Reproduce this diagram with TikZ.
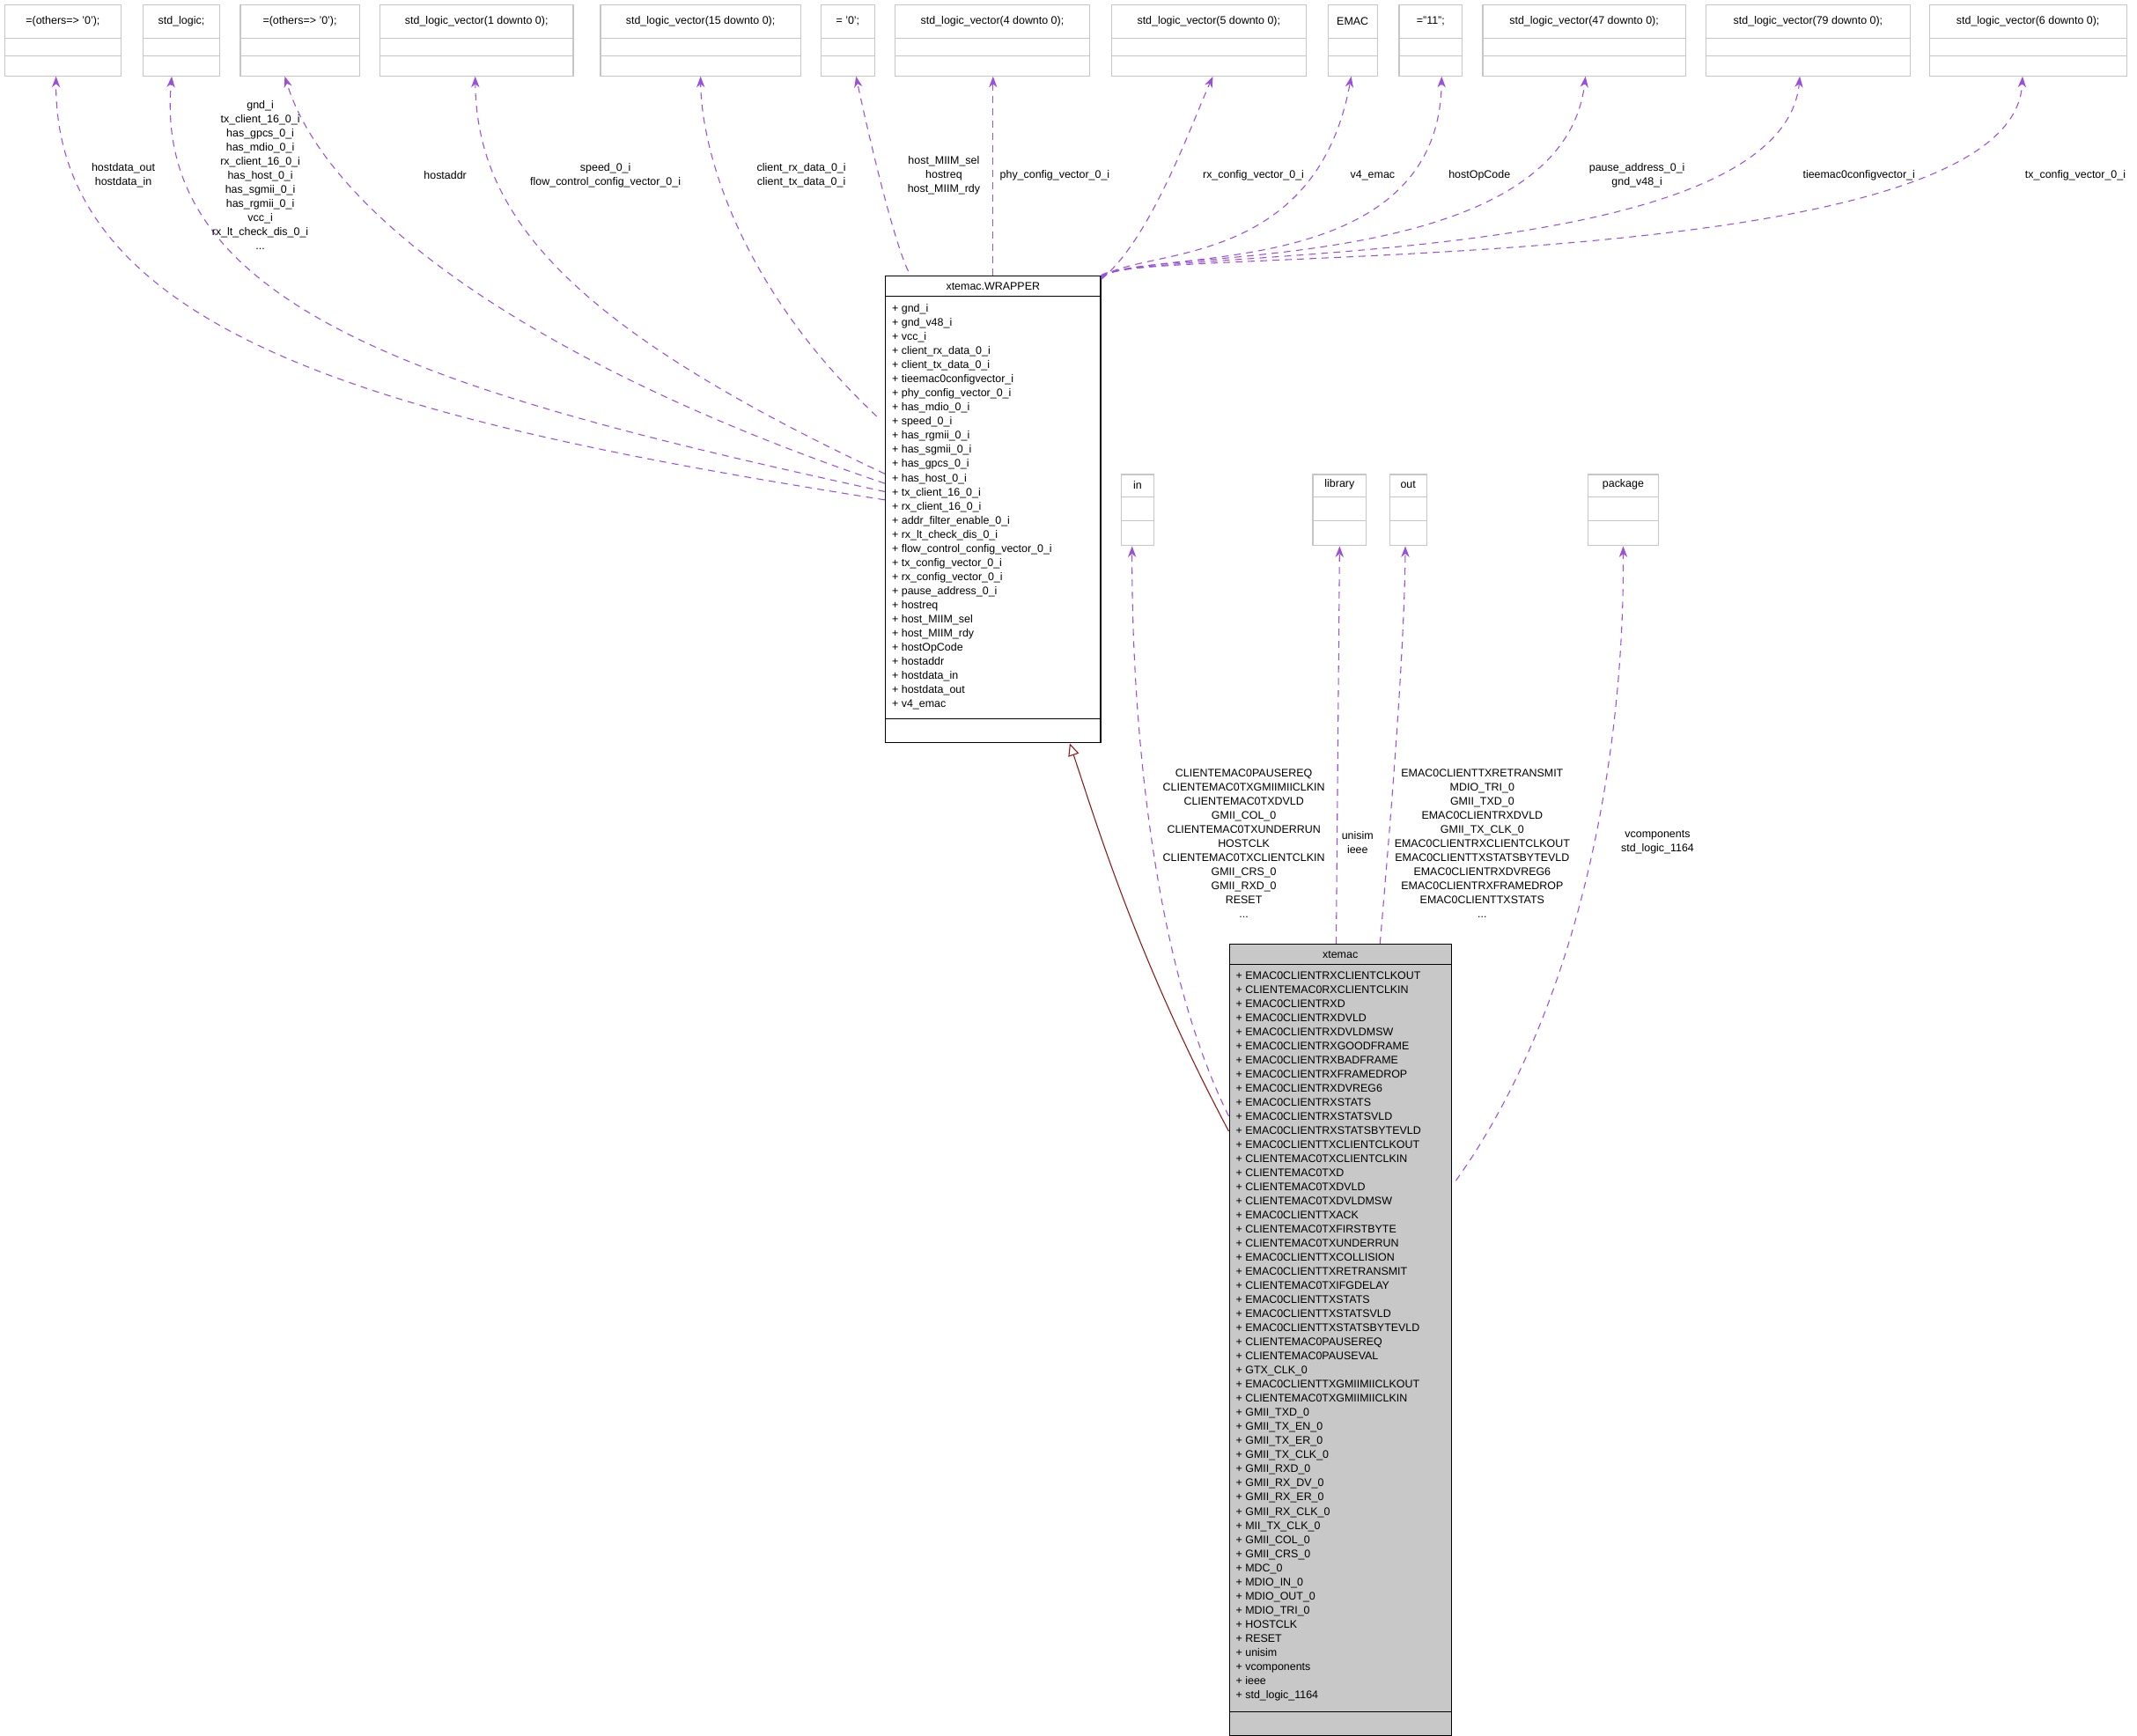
\documentclass[tikz,border=0pt]{standalone}
\usepackage{fontspec}
\setmainfont{Liberation Sans}
\usetikzlibrary{arrows.meta,positioning}
\definecolor{deppurple}{HTML}{9A50DA}
\definecolor{inhred}{HTML}{8B1A1A}
\definecolor{boxgray}{HTML}{C8C8C8}

% a small type box of the top row: name, left, right, text
\newcommand\typebox[4]{%
  \node[tbox, minimum width={#3pt-#2pt}] (#1) at (#2,3) {};
  \node[txt] (#1-t) at ([yshift=-12.5pt]#1.north) {#4};
  \draw[lightline] ([yshift=-25pt]#1.north west) -- ([yshift=-25pt]#1.north east);
  \draw[lightline] ([yshift=-38pt]#1.north west) -- ([yshift=-38pt]#1.north east);
}
% a small box of the middle row
\newcommand\kindbox[4]{%
  \node[tbox, minimum width={#3pt-#2pt}] (#1) at (#2,346) {};
  \node[txt] (#1-t) at ([yshift=-8pt]#1.north) {#4};
  \draw[lightline] ([yshift=-17pt]#1.north west) -- ([yshift=-17pt]#1.north east);
  \draw[lightline] ([yshift=-34pt]#1.north west) -- ([yshift=-34pt]#1.north east);
}

\begin{document}
\begin{tikzpicture}[x=1pt,y=-1pt,
        txt/.style={inner sep=0pt,font=\fontsize{8}{10.3}\selectfont},
        lst/.style={txt,align=left,anchor=north west},
        lbl/.style={txt,align=center},
        tbox/.style={draw=gray!45,line width=0.8pt,anchor=north west,minimum height=52pt,inner sep=0pt},
        lightline/.style={gray!45,line width=0.8pt},
        cbox/.style={draw,line width=0.8pt,anchor=north west,inner sep=0pt},
        dep/.style={deppurple,dashed,dash pattern=on 5pt off 4pt,line width=0.7pt,
          -{Stealth[length=8pt,width=6pt,inset=2.5pt]}},
        inh/.style={inhred,line width=0.7pt,-{Triangle[open,length=9pt,width=8pt]}}]
    \useasboundingbox (0,0) rectangle (1560,1267);

    % type boxes
    \typebox{b1}{3}{88}{=(others=> '0');}
    \typebox{b2}{104}{160}{std\_logic;}
    \typebox{b3}{175}{262}{=(others=> '0');}
    \typebox{b4}{277}{418}{std\_logic\_vector(1 downto 0);}
    \typebox{b5}{438}{584}{std\_logic\_vector(15 downto 0);}
    \typebox{b6}{599}{638}{= '0';}
    \typebox{b7}{653}{795}{std\_logic\_vector(4 downto 0);}
    \typebox{b8}{811}{953}{std\_logic\_vector(5 downto 0);}
    \typebox{b9}{969}{1005}{EMAC}
    \typebox{b10}{1021}{1067}{="11";}
    \typebox{b11}{1082}{1230}{std\_logic\_vector(47 downto 0);}
    \typebox{b12}{1245}{1394}{std\_logic\_vector(79 downto 0);}
    \typebox{b13}{1408}{1552}{std\_logic\_vector(6 downto 0);}

    % kind boxes
    \kindbox{kin}{818}{842}{in}
    \kindbox{klib}{958}{997}{library}
    \kindbox{kout}{1014}{1041}{out}
    \kindbox{kpkg}{1159}{1210}{package}

    % wrapper class
    \node[cbox,minimum width=157pt,minimum height=341pt] (wrapper) at (646,201) {};
    \node[txt] (wrapper-t) at ([yshift=-8pt]wrapper.north) {xtemac.WRAPPER};
    \draw ([yshift=-15pt]wrapper.north west) -- ([yshift=-15pt]wrapper.north east);
    \node[lst] (wrapper-a) at (651,222) {+ gnd\_i\\+ gnd\_v48\_i\\+ vcc\_i\\+ client\_rx\_data\_0\_i\\
        + client\_tx\_data\_0\_i\\+ tieemac0configvector\_i\\+ phy\_config\_vector\_0\_i\\
        + has\_mdio\_0\_i\\+ speed\_0\_i\\+ has\_rgmii\_0\_i\\+ has\_sgmii\_0\_i\\+ has\_gpcs\_0\_i\\
        + has\_host\_0\_i\\+ tx\_client\_16\_0\_i\\+ rx\_client\_16\_0\_i\\+ addr\_filter\_enable\_0\_i\\
        + rx\_lt\_check\_dis\_0\_i\\+ flow\_control\_config\_vector\_0\_i\\+ tx\_config\_vector\_0\_i\\
        + rx\_config\_vector\_0\_i\\+ pause\_address\_0\_i\\+ hostreq\\+ host\_MIIM\_sel\\
        + host\_MIIM\_rdy\\+ hostOpCode\\+ hostaddr\\+ hostdata\_in\\+ hostdata\_out\\+ v4\_emac};
    \draw ([yshift=-324pt]wrapper.north west) -- ([yshift=-324pt]wrapper.north east);

    % xtemac class
    \node[cbox,fill=boxgray,minimum width=162pt,minimum height=578pt] (xtemac) at (897,689) {};
    \node[txt] (xtemac-t) at ([yshift=-8pt]xtemac.north) {xtemac};
    \draw ([yshift=-15pt]xtemac.north west) -- ([yshift=-15pt]xtemac.north east);
    \node[lst] (xtemac-a) at (902,709) {+ EMAC0CLIENTRXCLIENTCLKOUT\\+ CLIENTEMAC0RXCLIENTCLKIN\\
        + EMAC0CLIENTRXD\\+ EMAC0CLIENTRXDVLD\\+ EMAC0CLIENTRXDVLDMSW\\+ EMAC0CLIENTRXGOODFRAME\\
        + EMAC0CLIENTRXBADFRAME\\+ EMAC0CLIENTRXFRAMEDROP\\+ EMAC0CLIENTRXDVREG6\\
        + EMAC0CLIENTRXSTATS\\+ EMAC0CLIENTRXSTATSVLD\\+ EMAC0CLIENTRXSTATSBYTEVLD\\
        + EMAC0CLIENTTXCLIENTCLKOUT\\+ CLIENTEMAC0TXCLIENTCLKIN\\+ CLIENTEMAC0TXD\\
        + CLIENTEMAC0TXDVLD\\+ CLIENTEMAC0TXDVLDMSW\\+ EMAC0CLIENTTXACK\\+ CLIENTEMAC0TXFIRSTBYTE\\
        + CLIENTEMAC0TXUNDERRUN\\+ EMAC0CLIENTTXCOLLISION\\+ EMAC0CLIENTTXRETRANSMIT\\
        + CLIENTEMAC0TXIFGDELAY\\+ EMAC0CLIENTTXSTATS\\+ EMAC0CLIENTTXSTATSVLD\\
        + EMAC0CLIENTTXSTATSBYTEVLD\\+ CLIENTEMAC0PAUSEREQ\\+ CLIENTEMAC0PAUSEVAL\\+ GTX\_CLK\_0\\
        + EMAC0CLIENTTXGMIIMIICLKOUT\\+ CLIENTEMAC0TXGMIIMIICLKIN\\+ GMII\_TXD\_0\\+ GMII\_TX\_EN\_0\\
        + GMII\_TX\_ER\_0\\+ GMII\_TX\_CLK\_0\\+ GMII\_RXD\_0\\+ GMII\_RX\_DV\_0\\+ GMII\_RX\_ER\_0\\
        + GMII\_RX\_CLK\_0\\+ MII\_TX\_CLK\_0\\+ GMII\_COL\_0\\+ GMII\_CRS\_0\\+ MDC\_0\\+ MDIO\_IN\_0\\
        + MDIO\_OUT\_0\\+ MDIO\_TRI\_0\\+ HOSTCLK\\+ RESET\\+ unisim\\+ vcomponents\\+ ieee\\
        + std\_logic\_1164};
    \draw ([yshift=-561pt]xtemac.north west) -- ([yshift=-561pt]xtemac.north east);

    % wrapper to type boxes
    \draw[dep] ([yshift=-164pt]wrapper.north west) .. controls (300,310) and (40,250) .. ([xshift=-5pt]b1.south);
    \draw[dep] ([yshift=-158pt]wrapper.north west) .. controls (330,290) and (110,230) .. ([xshift=-7pt]b2.south);
    \draw[dep] ([yshift=-152pt]wrapper.north west) .. controls (400,270) and (240,160) .. ([xshift=-11pt]b3.south);
    \draw[dep] ([yshift=-145pt]wrapper.north west) .. controls (420,240) and (348,160) .. ([xshift=-1pt]b4.south);
    \draw[dep] ([xshift=-6pt,yshift=-103pt]wrapper.north west) .. controls (540,210) and (512,110) .. (b5.south);
    \draw[dep] ([xshift=17pt,yshift=3pt]wrapper.north west) .. controls (650,170) and (630,80) .. ([xshift=6pt]b6.south);
    \draw[dep] (wrapper.north) -- (wrapper.north|-b7.south);
    \draw[dep] ([yshift=-3pt]wrapper.north east) .. controls (840,175) and (870,90) .. ([xshift=3pt]b8.south);
    \draw[dep] ([yshift=-2pt]wrapper.north east) .. controls (830,180) and (960,200) .. ([xshift=-1pt]b9.south);
    \draw[dep] ([yshift=-2pt]wrapper.north east) .. controls (830,180) and (1050,210) .. ([xshift=8pt]b10.south);
    \draw[dep] ([yshift=-1pt]wrapper.north east) .. controls (830,180) and (1140,205) .. ([xshift=1pt]b11.south);
    \draw[dep] ([yshift=-1pt]wrapper.north east) .. controls (830,180) and (1300,200) .. ([xshift=-6pt]b12.south);
    \draw[dep] (wrapper.north east) .. controls (830,180) and (1470,205) .. ([xshift=-4pt]b13.south);

    % xtemac to kind boxes
    \draw[dep] ([yshift=-126pt]xtemac.north west) .. controls (840,700) and (826,520) .. ([xshift=-4pt]kin.south);
    \draw[dep] ([xshift=-3pt]xtemac.north) -- ([xshift=0pt]klib.south);
    \draw[dep] ([xshift=29pt]xtemac.north) .. controls (1015,600) and (1025,480) .. ([xshift=-2pt]kout.south);
    \draw[dep] ([xshift=3pt,yshift=-173pt]xtemac.north east) .. controls (1150,740) and (1186,560) .. (kpkg.south);

    % generalisation
    \draw[inh] ([yshift=-137pt]xtemac.north west) .. controls (830,700) and (800,600) .. ([xshift=56pt]wrapper.south);

    % edge labels
    \node[lbl] (l1) at (90,128) {hostdata\_out\\hostdata\_in};
    \node[lbl] (l2) at (190,128) {gnd\_i\\tx\_client\_16\_0\_i\\has\_gpcs\_0\_i\\has\_mdio\_0\_i\\
        rx\_client\_16\_0\_i\\has\_host\_0\_i\\has\_sgmii\_0\_i\\has\_rgmii\_0\_i\\vcc\_i\\
        rx\_lt\_check\_dis\_0\_i\\...};
    \node[lbl] (l3) at (325,128) {hostaddr};
    \node[lbl] (l4) at (442,128) {speed\_0\_i\\flow\_control\_config\_vector\_0\_i};
    \node[lbl] (l5) at (585,128) {client\_rx\_data\_0\_i\\client\_tx\_data\_0\_i};
    \node[lbl] (l6) at (689,128) {host\_MIIM\_sel\\hostreq\\host\_MIIM\_rdy};
    \node[lbl] (l7) at (770,128) {phy\_config\_vector\_0\_i};
    \node[lbl] (l8) at (915,128) {rx\_config\_vector\_0\_i};
    \node[lbl] (l9) at (1002,128) {v4\_emac};
    \node[lbl] (l10) at (1080,128) {hostOpCode};
    \node[lbl] (l11) at (1195,128) {pause\_address\_0\_i\\gnd\_v48\_i};
    \node[lbl] (l12) at (1357,128) {tieemac0configvector\_i};
    \node[lbl] (l13) at (1515,128) {tx\_config\_vector\_0\_i};
    \node[lbl] (l14) at (908,616) {CLIENTEMAC0PAUSEREQ\\CLIENTEMAC0TXGMIIMIICLKIN\\CLIENTEMAC0TXDVLD\\
        GMII\_COL\_0\\CLIENTEMAC0TXUNDERRUN\\HOSTCLK\\CLIENTEMAC0TXCLIENTCLKIN\\GMII\_CRS\_0\\
        GMII\_RXD\_0\\RESET\\...};
    \node[lbl] (l15) at (991,615) {unisim\\ieee};
    \node[lbl] (l16) at (1082,616) {EMAC0CLIENTTXRETRANSMIT\\MDIO\_TRI\_0\\GMII\_TXD\_0\\
        EMAC0CLIENTRXDVLD\\GMII\_TX\_CLK\_0\\EMAC0CLIENTRXCLIENTCLKOUT\\EMAC0CLIENTTXSTATSBYTEVLD\\
        EMAC0CLIENTRXDVREG6\\EMAC0CLIENTRXFRAMEDROP\\EMAC0CLIENTTXSTATS\\...};
    \node[lbl] (l17) at (1210,615) {vcomponents\\std\_logic\_1164};
\end{tikzpicture}
\end{document}
